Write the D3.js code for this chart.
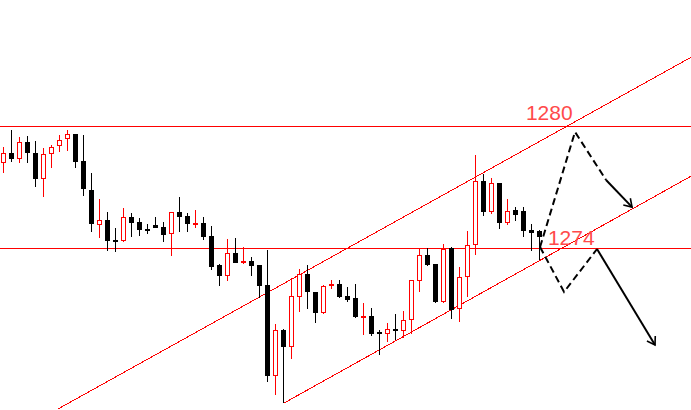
<!DOCTYPE html>
<html>
<head>
<meta charset="utf-8">
<script src="https://cdn.jsdelivr.net/npm/d3@7/dist/d3.min.js"></script>
<style>
html,body{margin:0;padding:0;background:#fff;overflow:hidden;}
</style>
</head>
<body>
<svg id="chart" width="691" height="410"></svg>
<script>
// ---- data (prices) ----
const open  = [1278.18,1278.68,1278.38,1279.22,1278.68,1277.39,1278.63,1279.04,1279.37,1279.61,
               1278.30,1276.86,1275.12,1275.38,1274.40,1274.33,1275.52,1275.28,1274.95,1275.12,
               1275.02,1274.68,1275.76,1275.57,1275.15,1275.23,1274.59,1273.16,1272.63,1273.75,
               1273.27,1273.34,1273.18,1272.17,1267.69,1269.95,1269.10,1271.60,1272.72,1271.81,
               1270.78,1272.14,1272.24,1271.63,1271.52,1270.59,1270.63,1269.83,1269.73,1270.00,
               1269.89,1270.46,1272.39,1273.65,1273.23,1271.35,1274.00,1270.97,1272.55,1274.15,
               1277.31,1275.79,1277.22,1275.22,1275.88,1275.83,1274.89,1274.82];
const high  = [1278.97,1279.83,1279.47,1279.53,1279.28,1278.92,1279.09,1279.58,1279.83,1279.63,
               1279.58,1277.69,1276.42,1275.78,1275.00,1275.99,1275.73,1275.48,1275.19,1275.53,
               1275.27,1275.76,1276.52,1275.73,1275.88,1275.52,1275.07,1273.21,1274.44,1274.51,
               1274.06,1273.54,1273.18,1273.90,1270.25,1270.00,1272.50,1272.95,1273.16,1271.81,
               1272.17,1272.42,1272.42,1272.09,1272.20,1271.29,1271.02,1269.95,1270.30,1270.76,
               1270.89,1272.44,1273.99,1273.99,1273.23,1274.20,1274.06,1273.06,1274.85,1278.59,
               1277.67,1277.44,1277.22,1276.43,1276.04,1276.02,1275.20,1274.91];
const low   = [1277.72,1278.26,1278.18,1278.18,1277.03,1276.50,1277.94,1278.76,1278.80,1277.94,
               1276.58,1274.78,1274.48,1273.87,1273.82,1274.32,1274.53,1274.61,1274.68,1274.99,
               1274.31,1273.62,1274.81,1274.78,1275.00,1274.41,1272.91,1272.14,1272.39,1273.27,
               1273.21,1272.63,1271.52,1267.40,1266.74,1266.33,1268.50,1270.85,1270.99,1270.31,
               1270.74,1271.98,1271.52,1271.35,1270.53,1269.69,1269.66,1268.74,1269.37,1269.46,
               1269.57,1269.75,1271.84,1273.12,1271.28,1271.28,1270.49,1270.37,1271.57,1273.67,
               1275.60,1275.69,1274.92,1275.15,1275.35,1274.56,1273.87,1273.41];
const close = [1278.68,1278.38,1279.22,1278.68,1277.39,1278.63,1278.97,1279.32,1279.61,1278.26,
               1276.90,1275.17,1275.37,1274.36,1274.31,1275.52,1275.25,1274.90,1274.85,1275.00,
               1274.66,1275.76,1275.55,1275.17,1275.22,1274.56,1273.08,1272.63,1273.75,1273.27,
               1273.36,1273.13,1272.14,1267.69,1269.95,1269.13,1271.63,1272.72,1271.81,1270.78,
               1272.10,1272.24,1271.60,1271.43,1270.59,1270.62,1269.75,1269.73,1269.99,1269.88,
               1270.43,1272.42,1273.65,1273.16,1271.35,1273.95,1270.94,1272.55,1274.17,1277.31,
               1275.79,1277.20,1275.22,1275.85,1275.63,1274.85,1274.73,1274.53];

// key levels and labels
const levels = [1280, 1274];
const levelLabels = ["1280", "1274"];
const labelIndex = [65.3, 68.05];        // candle-index position of label text
const labelPrice = [1280.32, 1274.15];   // baseline price of label text

// channel lines: [index, price] endpoints
const upperChannel = [[6.8, 1266.05], [86, 1283.43]];
const lowerChannel = [[35, 1266.33], [86, 1277.56]];

// forecast paths: [index, price]
const pathUpDashed   = [[67.07, 1274.05], [71.44, 1279.73], [75.32, 1277.36]];
const pathUpSolid    = [[75.32, 1277.36], [78.57, 1276.02]];
const pathDownDashed = [[67.07, 1274.05], [70.07, 1271.83], [74.19, 1273.95]];
const pathDownSolid  = [[74.19, 1273.95], [81.44, 1269.21]];

// ---- scales ----
const W = 691, H = 410;
const x = d3.scaleLinear().domain([0, 67]).range([3.5, 539.5]);
const y = d3.scaleLinear().domain([1274, 1280]).range([248, 126.5]);

const svg = d3.select("#chart");
const RED = "#ff0000";

// horizontal level lines
svg.selectAll("line.level").data(levels).enter().append("line")
  .attr("class", "level")
  .attr("x1", 0).attr("x2", W)
  .attr("y1", d => Math.floor(y(d)) + 0.5)
  .attr("y2", d => Math.floor(y(d)) + 0.5)
  .attr("stroke", RED).attr("stroke-width", 1)
  .attr("shape-rendering", "crispEdges");

// channel lines
[upperChannel, lowerChannel].forEach(c => {
  svg.append("line")
    .attr("x1", x(c[0][0])).attr("y1", y(c[0][1]))
    .attr("x2", x(c[1][0])).attr("y2", y(c[1][1]))
    .attr("stroke", RED).attr("stroke-width", 1)
    .attr("shape-rendering", "crispEdges");
});

// candles
const idx = d3.range(open.length);
const g = svg.append("g").attr("shape-rendering", "crispEdges");
idx.forEach(i => {
  const up = close[i] >= open[i];
  const cx = x(i);
  const col = up ? RED : "#000";
  g.append("line")
    .attr("x1", cx).attr("x2", cx)
    .attr("y1", Math.round(y(high[i]))).attr("y2", Math.round(y(low[i])))
    .attr("stroke", col).attr("stroke-width", 1);
  const top = Math.round(y(Math.max(open[i], close[i])));
  const bot = Math.round(y(Math.min(open[i], close[i])));
  if (up) {
    g.append("rect")
      .attr("x", cx - 2).attr("width", 4)
      .attr("y", top + 0.5).attr("height", Math.max(1, bot - top - 1))
      .attr("fill", "#fff").attr("stroke", RED).attr("stroke-width", 1);
  } else {
    g.append("rect")
      .attr("x", cx - 2.5).attr("width", 5)
      .attr("y", top).attr("height", Math.max(2, bot - top))
      .attr("fill", "#000");
  }
});

// labels
svg.selectAll("text.lbl").data(levels).enter().append("text")
  .attr("class", "lbl")
  .attr("x", (d, i) => x(labelIndex[i]))
  .attr("y", (d, i) => y(labelPrice[i]))
  .attr("font-family", "'Liberation Sans', Arial, sans-serif")
  .attr("font-size", 21)
  .attr("fill", "#ff4a4a")
  .text((d, i) => levelLabels[i]);

// forecast paths
const line = d3.line().x(d => x(d[0])).y(d => y(d[1]));
[pathUpDashed, pathDownDashed].forEach(p => {
  svg.append("path").attr("d", line(p))
    .attr("fill", "none").attr("stroke", "#000").attr("stroke-width", 2)
    .attr("stroke-dasharray", "7,4").attr("stroke-linejoin", "miter");
});
function arrowHead(p) {
  const a = p[p.length - 2], b = p[p.length - 1];
  const x1 = x(a[0]), y1 = y(a[1]), x2 = x(b[0]), y2 = y(b[1]);
  const ang = Math.atan2(y2 - y1, x2 - x1);
  const L = 9, spread = Math.PI / 5.5;
  const w1 = [x2 - L * Math.cos(ang - spread), y2 - L * Math.sin(ang - spread)];
  const w2 = [x2 - L * Math.cos(ang + spread), y2 - L * Math.sin(ang + spread)];
  return `M${w1[0]},${w1[1]}L${x2},${y2}L${w2[0]},${w2[1]}`;
}
[pathUpSolid, pathDownSolid].forEach(p => {
  svg.append("path").attr("d", line(p))
    .attr("fill", "none").attr("stroke", "#000").attr("stroke-width", 2);
  svg.append("path").attr("d", arrowHead(p))
    .attr("fill", "none").attr("stroke", "#000").attr("stroke-width", 1.6);
});
</script>
</body>
</html>
